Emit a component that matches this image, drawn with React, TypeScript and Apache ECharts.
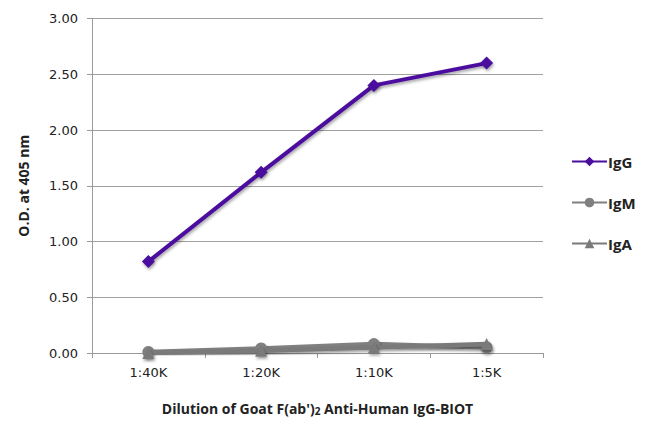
import React, { useEffect, useRef } from "react";
import * as echarts from "echarts";

const categories = ["1:40K", "1:20K", "1:10K", "1:5K"];
const igG = [0.82, 1.62, 2.4, 2.6];
const igM = [0.01, 0.04, 0.08, 0.05];
const igA = [0.0, 0.02, 0.05, 0.08];
const yTicks = { min: 0, max: 3, interval: 0.5 };

export default function App() {
  const ref = useRef<HTMLDivElement>(null);
  useEffect(() => {
    if (!ref.current) return;
    const chart = echarts.init(ref.current, undefined, { renderer: "svg" });
    const shadow = {
      shadowColor: "rgba(0,0,0,0.35)",
      shadowBlur: 3,
      shadowOffsetX: 1,
      shadowOffsetY: 2,
    };
    chart.setOption({
      animation: false,
      backgroundColor: "#ffffff",
      grid: { left: 92, right: 107, top: 18.5, bottom: 79 },
      legend: {
        orient: "vertical",
        left: 566,
        top: 149,
        itemWidth: 35,
        itemHeight: 12,
        itemGap: 26,
        textStyle: {
          fontFamily: "Open Sans",
          fontWeight: "bold",
          fontSize: 15,
          color: "#222",
          padding: [0, 0, 0, -4],
        },
        data: ["IgG", "IgM", "IgA"],
      },
      xAxis: {
        type: "category",
        data: categories,
        boundaryGap: true,
        name: "{a|Dilution of Goat F(ab')}{s|2}{a| Anti-Human IgG-BIOT}",
        nameLocation: "middle",
        nameGap: 48,
        nameTextStyle: {
          rich: {
            a: { fontFamily: "Open Sans", fontWeight: "bold", fontSize: 14, color: "#222" },
            s: {
              fontFamily: "Open Sans",
              fontWeight: "bold",
              fontSize: 10,
              color: "#222",
              padding: [5, 0, 0, 0],
            },
          },
        },
        axisLine: { lineStyle: { color: "#9a9a9a", width: 1 } },
        axisTick: { show: true, length: 5, lineStyle: { color: "#9a9a9a" } },
        axisLabel: { fontFamily: "DejaVu Sans", fontSize: 13, color: "#222", margin: 13 },
      },
      yAxis: {
        type: "value",
        min: yTicks.min,
        max: yTicks.max,
        interval: yTicks.interval,
        name: "O.D. at 405 nm",
        nameLocation: "middle",
        nameGap: 62,
        nameTextStyle: { fontFamily: "Open Sans", fontWeight: "bold", fontSize: 14, color: "#222" },
        axisLine: { show: true, lineStyle: { color: "#9a9a9a", width: 1 } },
        axisTick: { show: true, length: 5, lineStyle: { color: "#9a9a9a" } },
        axisLabel: {
          fontFamily: "DejaVu Sans",
          fontSize: 13,
          color: "#222",
          margin: 14,
          formatter: (v: number) => v.toFixed(2),
        },
        splitLine: { lineStyle: { color: "#a0a0a0", width: 1 } },
      },
      series: [
        {
          name: "IgM",
          type: "line",
          data: igM,
          symbol: "circle",
          symbolSize: 12,
          color: "#808080",
          lineStyle: { width: 4.5, color: "#808080", ...shadow },
          itemStyle: { color: "#808080", ...shadow },
          z: 2,
        },
        {
          name: "IgA",
          type: "line",
          data: igA,
          symbol: "triangle",
          symbolSize: 12,
          color: "#7a7a7a",
          lineStyle: { width: 4.5, color: "#7a7a7a", ...shadow },
          itemStyle: { color: "#7a7a7a", ...shadow },
          z: 3,
        },
        {
          name: "IgG",
          type: "line",
          data: igG,
          symbol: "diamond",
          symbolSize: 13,
          color: "#4B0D9E",
          lineStyle: { width: 4, color: "#4B0D9E", ...shadow },
          itemStyle: { color: "#4B0D9E", ...shadow },
          z: 4,
        },
      ],
    });
    return () => chart.dispose();
  }, []);
  return (
    <div
      ref={ref}
      style={{ position: "fixed", left: 0, top: 0, width: 650, height: 432 }}
    />
  );
}
